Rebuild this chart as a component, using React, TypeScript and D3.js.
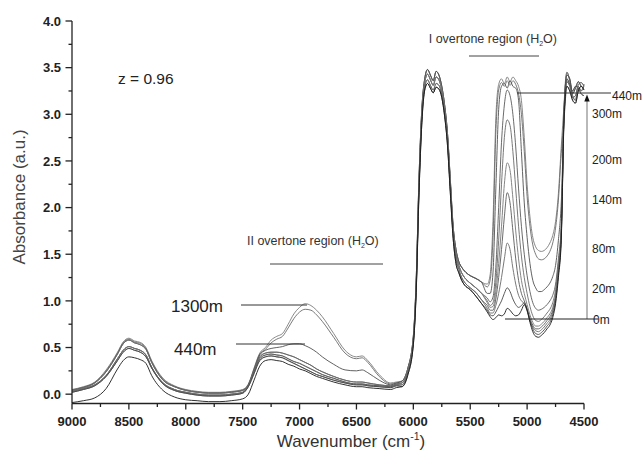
import React, { useEffect } from "react";
import * as d3 from "d3";

// ---------- axis ticks ----------
const xMajorTicks = [9000, 8500, 8000, 7500, 7000, 6500, 6000, 5500, 5000, 4500];
const xMinorTicks = [8750, 8250, 7750, 7250, 6750, 6250, 5750, 5250, 4750];
const yMajorTicks = [0, 0.5, 1.0, 1.5, 2.0, 2.5, 3.0, 3.5, 4.0];
const yMinorTicks = [0.25, 0.75, 1.25, 1.75, 2.25, 2.75, 3.25, 3.75];

// ---------- wavenumber grids per spectral segment ----------
const seg1Wn = [9000, 8900, 8800, 8700, 8600, 8550, 8500, 8450, 8400, 8350, 8300, 8200, 8100, 8000, 7900, 7800, 7700, 7600, 7500];
const seg2Wn = [7450, 7400, 7350, 7300, 7250, 7200, 7150, 7100, 7050, 7000, 6950, 6900, 6850, 6800, 6700, 6600, 6500, 6450, 6400, 6300, 6200, 6150];
const seg3Wn = [6100, 6050, 6000, 5975, 5950, 5925, 5900, 5875, 5850, 5825, 5800, 5775, 5750, 5725, 5700, 5675, 5650, 5625, 5600, 5575, 5550, 5500, 5450, 5400];
const seg4Wn = [5350, 5325, 5300, 5275, 5250, 5225, 5200, 5175, 5150, 5125, 5100, 5075, 5050, 5025, 5000, 4975, 4950, 4925, 4900, 4875, 4850, 4825, 4800, 4775, 4750, 4725, 4700];
const seg5Wn = [4675, 4650, 4625, 4600, 4575, 4550, 4525, 4500];

// segment 1 : 9000-7500 (8500 band)
const S1a = [0.05, 0.08, 0.13, 0.26, 0.45, 0.56, 0.60, 0.57, 0.555, 0.50, 0.36, 0.17, 0.09, 0.05, 0.03, 0.02, 0.02, 0.03, 0.05];
const S1f = [0.045, 0.075, 0.125, 0.25, 0.44, 0.55, 0.59, 0.56, 0.545, 0.49, 0.35, 0.16, 0.085, 0.045, 0.025, 0.015, 0.015, 0.025, 0.045];
const S1b = [0.04, 0.07, 0.12, 0.24, 0.43, 0.54, 0.58, 0.55, 0.53, 0.48, 0.34, 0.15, 0.08, 0.04, 0.02, 0.01, 0.01, 0.02, 0.04];
const S1c = [0.03, 0.06, 0.10, 0.20, 0.38, 0.47, 0.51, 0.49, 0.47, 0.42, 0.29, 0.12, 0.05, 0.02, 0.0, -0.01, -0.01, 0.0, 0.02];
const S1d = [0.02, 0.05, 0.09, 0.19, 0.36, 0.45, 0.49, 0.47, 0.45, 0.40, 0.28, 0.11, 0.04, 0.01, -0.01, -0.02, -0.02, -0.01, 0.01];
const S1e = [-0.09, -0.07, -0.04, 0.06, 0.27, 0.36, 0.40, 0.39, 0.37, 0.33, 0.20, 0.04, -0.03, -0.06, -0.07, -0.08, -0.08, -0.07, -0.05];

// segment 2 : 7450-6150 (II overtone region)
const S2a = [0.00, 0.15, 0.30, 0.36, 0.37, 0.36, 0.35, 0.32, 0.30, 0.27, 0.25, 0.22, 0.19, 0.17, 0.13, 0.10, 0.08, 0.08, 0.07, 0.06, 0.05, 0.07];
const S2b = [0.08, 0.22, 0.36, 0.40, 0.41, 0.40, 0.39, 0.36, 0.33, 0.30, 0.27, 0.24, 0.21, 0.19, 0.15, 0.12, 0.10, 0.10, 0.09, 0.08, 0.07, 0.09];
const S2c = [0.09, 0.24, 0.38, 0.42, 0.43, 0.42, 0.41, 0.38, 0.35, 0.33, 0.30, 0.27, 0.24, 0.21, 0.17, 0.13, 0.11, 0.11, 0.10, 0.09, 0.08, 0.10];
const S2d = [0.10, 0.25, 0.40, 0.44, 0.45, 0.45, 0.44, 0.42, 0.40, 0.37, 0.34, 0.31, 0.27, 0.24, 0.19, 0.15, 0.13, 0.13, 0.12, 0.10, 0.09, 0.11];
const S2e = [0.10, 0.26, 0.42, 0.47, 0.49, 0.50, 0.51, 0.53, 0.54, 0.54, 0.52, 0.49, 0.45, 0.40, 0.32, 0.26, 0.25, 0.26, 0.23, 0.15, 0.10, 0.12];
const S2f = [0.11, 0.28, 0.44, 0.50, 0.58, 0.62, 0.65, 0.75, 0.86, 0.93, 0.97, 0.95, 0.90, 0.83, 0.65, 0.47, 0.40, 0.41, 0.36, 0.21, 0.12, 0.13];
const S2g = [0.10, 0.27, 0.43, 0.48, 0.55, 0.59, 0.62, 0.71, 0.81, 0.88, 0.91, 0.90, 0.85, 0.78, 0.61, 0.44, 0.38, 0.39, 0.34, 0.19, 0.11, 0.12];

// segment 3 : 6100-5400 (big band)
const S3a = [0.14, 0.27, 0.62, 1.22, 2.32, 3.06, 3.38, 3.48, 3.42, 3.36, 3.46, 3.42, 3.30, 3.10, 2.80, 2.30, 1.80, 1.55, 1.42, 1.36, 1.32, 1.27, 1.24, 1.20];
const S3b = [0.12, 0.25, 0.59, 1.17, 2.26, 3.01, 3.34, 3.43, 3.37, 3.31, 3.40, 3.37, 3.26, 3.06, 2.76, 2.26, 1.76, 1.50, 1.38, 1.30, 1.25, 1.19, 1.14, 1.08];
const S3c = [0.10, 0.23, 0.56, 1.13, 2.21, 2.96, 3.29, 3.37, 3.31, 3.26, 3.33, 3.31, 3.21, 3.01, 2.71, 2.21, 1.72, 1.45, 1.34, 1.25, 1.20, 1.14, 1.09, 1.01];
const S3d = [0.08, 0.20, 0.53, 1.09, 2.16, 2.91, 3.26, 3.33, 3.28, 3.23, 3.29, 3.27, 3.18, 2.98, 2.67, 2.16, 1.67, 1.40, 1.30, 1.22, 1.17, 1.12, 1.05, 0.97];

// segment 4 : 5350-4700 (I overtone region), one per altitude
const B0 = [0.88, 0.83, 0.80, 0.82, 0.85, 0.84, 0.86, 0.92, 0.90, 0.86, 0.84, 0.85, 0.90, 0.96, 0.90, 0.77, 0.67, 0.62, 0.61, 0.63, 0.66, 0.70, 0.74, 0.82, 0.97, 1.25, 1.65];
const B20 = [0.90, 0.85, 0.84, 0.88, 0.94, 1.00, 1.08, 1.14, 1.10, 1.02, 0.96, 0.93, 0.95, 0.98, 0.91, 0.79, 0.70, 0.65, 0.64, 0.66, 0.69, 0.73, 0.77, 0.85, 1.00, 1.28, 1.68];
const B50 = [0.92, 0.87, 0.87, 0.95, 1.08, 1.25, 1.45, 1.62, 1.55, 1.35, 1.18, 1.06, 1.00, 0.97, 0.89, 0.79, 0.72, 0.68, 0.67, 0.69, 0.72, 0.76, 0.80, 0.88, 1.03, 1.31, 1.70];
const B80 = [0.95, 0.90, 0.90, 1.02, 1.25, 1.55, 1.90, 2.16, 2.05, 1.75, 1.45, 1.22, 1.08, 1.00, 0.91, 0.81, 0.74, 0.70, 0.70, 0.72, 0.75, 0.79, 0.83, 0.90, 1.05, 1.33, 1.72];
const B140 = [0.98, 0.93, 0.94, 1.10, 1.40, 1.80, 2.25, 2.48, 2.40, 2.10, 1.75, 1.45, 1.22, 1.08, 0.96, 0.85, 0.77, 0.73, 0.73, 0.75, 0.78, 0.82, 0.86, 0.93, 1.07, 1.36, 1.75];
const B200 = [1.00, 0.95, 0.98, 1.20, 1.65, 2.25, 2.75, 2.94, 2.88, 2.60, 2.20, 1.80, 1.48, 1.25, 1.08, 0.94, 0.84, 0.79, 0.78, 0.80, 0.83, 0.87, 0.91, 0.98, 1.12, 1.40, 1.78];
const B300 = [1.03, 0.99, 1.04, 1.36, 2.00, 2.70, 3.10, 3.26, 3.20, 3.00, 2.65, 2.20, 1.80, 1.50, 1.27, 1.10, 0.98, 0.92, 0.90, 0.91, 0.93, 0.96, 1.00, 1.06, 1.18, 1.45, 1.82];
const B440 = [1.08, 1.08, 1.30, 2.20, 3.05, 3.30, 3.33, 3.28, 3.36, 3.30, 3.28, 3.15, 2.60, 2.05, 1.68, 1.40, 1.22, 1.14, 1.10, 1.10, 1.12, 1.15, 1.19, 1.26, 1.38, 1.65, 2.05];
const B1300a = [1.18, 1.28, 1.85, 2.95, 3.32, 3.38, 3.33, 3.40, 3.35, 3.40, 3.36, 3.30, 3.15, 2.75, 2.25, 1.90, 1.68, 1.58, 1.54, 1.53, 1.54, 1.57, 1.62, 1.70, 1.85, 2.15, 2.65];
const B1300b = [1.15, 1.22, 1.68, 2.80, 3.26, 3.34, 3.30, 3.36, 3.31, 3.36, 3.32, 3.22, 3.00, 2.60, 2.12, 1.80, 1.60, 1.50, 1.45, 1.44, 1.45, 1.48, 1.53, 1.62, 1.78, 2.08, 2.58];

// segment 5 : 4675-4500
const S5a = [3.05, 3.42, 3.38, 3.22, 3.28, 3.35, 3.30, 3.28];
const S5b = [3.00, 3.35, 3.30, 3.18, 3.20, 3.30, 3.25, 3.32];
const S5c = [2.95, 3.30, 3.25, 3.15, 3.12, 3.25, 3.30, 3.26];
const S5d = [2.98, 3.38, 3.32, 3.25, 3.30, 3.28, 3.22, 3.20];
const S5e = [3.10, 3.45, 3.36, 3.20, 3.15, 3.32, 3.34, 3.30];

const spectra = [
  { name: "1300m a", parts: [S1a, S2f, S3a, B1300a, S5e], color: "#7a7a7a" },
  { name: "1300m b", parts: [S1f, S2g, S3a, B1300b, S5c], color: "#6a6a6a" },
  { name: "440m", parts: [S1b, S2e, S3a, B440, S5d], color: "#505050" },
  { name: "300m", parts: [S1c, S2d, S3b, B300, S5b], color: "#5a5a5a" },
  { name: "200m", parts: [S1b, S2d, S3b, B200, S5e], color: "#6a6a6a" },
  { name: "140m", parts: [S1c, S2c, S3b, B140, S5a], color: "#777777" },
  { name: "80m", parts: [S1d, S2c, S3c, B80, S5d], color: "#5a5a5a" },
  { name: "50m", parts: [S1c, S2b, S3c, B50, S5b], color: "#6a6a6a" },
  { name: "20m", parts: [S1d, S2b, S3d, B20, S5a], color: "#4a4a4a" },
  { name: "0m", parts: [S1e, S2a, S3d, B0, S5c], color: "#1a1a1a" },
];
const segGrids = [seg1Wn, seg2Wn, seg3Wn, seg4Wn, seg5Wn];

const W = 642;
const H = 454;

export default function App() {
  useEffect(() => {
    document.body.style.margin = "0";
  }, []);

  const x = d3.scaleLinear().domain([9000, 4500]).range([72, 584]);
  const y = d3.scaleLinear().domain([-0.1, 4.0]).range([403.5, 21]);

  const line = d3
    .line<[number, number]>()
    .x((d) => x(d[0]))
    .y((d) => y(d[1]))
    .curve(d3.curveMonotoneX);

  const paths = spectra.map((s) => {
    const pts: [number, number][] = [];
    s.parts.forEach((arr, i) => {
      arr.forEach((v, j) => pts.push([segGrids[i][j], v]));
    });
    return { name: s.name, color: s.color, d: line(pts) || "" };
  });

  const font = "'Liberation Sans', Arial, Helvetica, sans-serif";
  const axisY = y(-0.1);
  const axisX = x(9000);

  return (
    <svg
      width={W}
      height={H}
      style={{ position: "absolute", left: 0, top: 0, background: "#fff", fontFamily: font }}
    >
      <rect x={0} y={0} width={W} height={H} fill="#fff" />
      {/* spectra */}
      <g fill="none">
        {paths.map((p) => (
          <path key={p.name} d={p.d} stroke={p.color} strokeWidth={0.9} />
        ))}
      </g>

      {/* axes */}
      <g stroke="#222" strokeWidth={1.3}>
        <line x1={axisX} y1={axisY} x2={x(4500)} y2={axisY} />
        <line x1={axisX} y1={axisY} x2={axisX} y2={y(4.0)} />
        {xMajorTicks.map((t) => (
          <line key={"xM" + t} x1={x(t)} x2={x(t)} y1={axisY} y2={axisY + 6} />
        ))}
        {xMinorTicks.map((t) => (
          <line key={"xm" + t} x1={x(t)} x2={x(t)} y1={axisY} y2={axisY + 3.5} />
        ))}
        {yMajorTicks.map((t) => (
          <line key={"yM" + t} x1={axisX - 6.5} x2={axisX} y1={y(t)} y2={y(t)} />
        ))}
        {yMinorTicks.map((t) => (
          <line key={"ym" + t} x1={axisX - 3.5} x2={axisX} y1={y(t)} y2={y(t)} />
        ))}
      </g>
      <g fontSize={13} fontWeight="bold" fill="#222">
        {xMajorTicks.map((t) => (
          <text key={"xl" + t} x={x(t)} y={426} textAnchor="middle">
            {t}
          </text>
        ))}
        {yMajorTicks.map((t) => (
          <text key={"yl" + t} x={61} y={y(t)} dy="0.36em" textAnchor="end">
            {t.toFixed(1)}
          </text>
        ))}
      </g>

      {/* axis titles */}
      <text x={351} y={447} textAnchor="middle" fontSize={17} fill="#333">
        Wavenumber (cm<tspan dy={-7} fontSize={10.5}>-1</tspan>
        <tspan dy={7}>)</tspan>
      </text>
      <text
        transform="translate(25,197) rotate(-90)"
        textAnchor="middle"
        fontSize={17}
        fill="#444"
      >
        Absorbance (a.u.)
      </text>

      {/* annotations */}
      <text x={118} y={84} fontSize={15.5} fill="#222">
        z = 0.96
      </text>

      <text x={247} y={245} fontSize={12.5} fill="#333">
        II overtone region (H<tspan dy={3} fontSize={7}>2</tspan>
        <tspan dy={-3}>O)</tspan>
      </text>
      <line x1={270} x2={383} y1={264} y2={264} stroke="#444" strokeWidth={1} />

      <text x={557} y={43} fontSize={12.5} fill="#333" textAnchor="end">
        I overtone region (H<tspan dy={3} fontSize={7}>2</tspan>
        <tspan dy={-3}>O)</tspan>
      </text>
      <line x1={469} x2={539} y1={56} y2={56} stroke="#444" strokeWidth={1} />

      <text x={171} y={312} fontSize={17} fill="#222">
        1300m
      </text>
      <line x1={241} x2={307} y1={305} y2={305} stroke="#333" strokeWidth={1} />
      <text x={174} y={355} fontSize={17} fill="#222">
        440m
      </text>
      <line x1={236} x2={305} y1={344} y2={344} stroke="#333" strokeWidth={1} />

      {/* altitude scale on the right */}
      <line x1={587} x2={587} y1={100} y2={319} stroke="#8a8a8a" strokeWidth={1.2} />
      <polygon points="587,94.5 584.3,101.5 589.7,101.5" fill="#111" />
      <line x1={517} x2={611} y1={93} y2={93} stroke="#333" strokeWidth={1} />
      <line x1={505} x2={598} y1={319} y2={319} stroke="#222" strokeWidth={1} />
      <g fontSize={12} fill="#222">
        <text x={612} y={100}>440m</text>
        <text x={592} y={118}>300m</text>
        <text x={592} y={164}>200m</text>
        <text x={592} y={204}>140m</text>
        <text x={592} y={253}>80m</text>
        <text x={592} y={293}>20m</text>
        <text x={593} y={324}>0m</text>
      </g>
    </svg>
  );
}
